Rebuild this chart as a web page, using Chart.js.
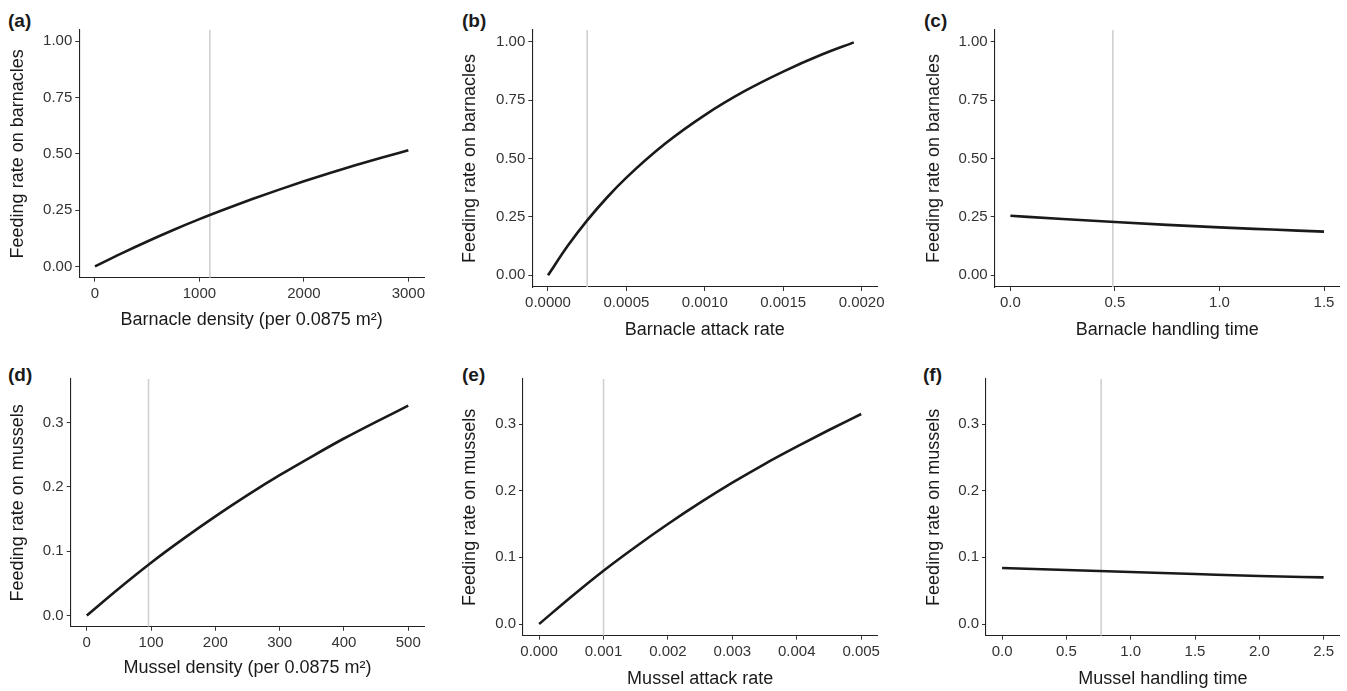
<!DOCTYPE html>
<html><head><meta charset="utf-8">
<script src="https://cdn.jsdelivr.net/npm/chart.js@4/dist/chart.umd.min.js"></script>
<style>
html,body{margin:0;padding:0;background:#fff;width:1347px;height:691px;overflow:hidden;position:relative;}
.lab{position:absolute;font:bold 19px "Liberation Sans",Arial,sans-serif;color:#1a1a1a;line-height:19px;white-space:nowrap;}
</style></head><body>
<div class="lab" style="left:8px;top:11px">(a)</div>
<div class="lab" style="left:462px;top:11px">(b)</div>
<div class="lab" style="left:924px;top:11px">(c)</div>
<div class="lab" style="left:8px;top:365px">(d)</div>
<div class="lab" style="left:462px;top:365px">(e)</div>
<div class="lab" style="left:923px;top:365px">(f)</div>
<script>
// ---- data ----
const barnDensity = [0,250,500,750,1000,1250,1500,1750,2000,2250,2500,2750,3000];
const feedBarnByDensity = [0,0.057,0.111,0.162,0.210,0.255,0.298,0.339,0.378,0.415,0.450,0.484,0.516];
const barnAttack = [0,0.000125,0.00025,0.000375,0.0005,0.00075,0.001,0.00125,0.0015,0.00175,0.00195];
const feedBarnByAttack = [0,0.125,0.235,0.332,0.418,0.565,0.686,0.787,0.872,0.946,0.997];
const barnHandling = [0,0.25,0.5,0.75,1.0,1.25,1.5];
const feedBarnByHandling = [0.255,0.241,0.228,0.216,0.205,0.196,0.187];
const musDensity = [0,50,100,150,200,250,300,350,400,450,500];
const feedMusByDensity = [0,0.042,0.082,0.119,0.154,0.187,0.218,0.247,0.275,0.301,0.326];
const musAttack = [0,0.0005,0.001,0.0015,0.002,0.0025,0.003,0.0035,0.004,0.0045,0.005];
const feedMusByAttack = [0,0.041,0.080,0.116,0.150,0.182,0.212,0.240,0.266,0.291,0.315];
const musHandling = [0,0.5,1.0,1.5,2.0,2.5];
const feedMusByHandling = [0.084,0.081,0.078,0.075,0.072,0.070];

// reference (observed) parameter values, grey vertical lines
const refBarnDensity = 1100;
const refBarnAttack = 0.00025;
const refBarnHandling = 0.49;
const refMusDensity = 96;
const refMusAttack = 0.001;
const refMusHandling = 0.77;

// tick values and labels
const yTicksBarn = [0,0.25,0.5,0.75,1.0];
const yLabelsBarn = ['0.00','0.25','0.50','0.75','1.00'];
const yTicksMus = [0,0.1,0.2,0.3];
const yLabelsMus = ['0.0','0.1','0.2','0.3'];
const xTicksBarnDensity = [0,1000,2000,3000];
const xLabelsBarnDensity = ['0','1000','2000','3000'];
const xTicksBarnAttack = [0,0.0005,0.001,0.0015,0.002];
const xLabelsBarnAttack = ['0.0000','0.0005','0.0010','0.0015','0.0020'];
const xTicksBarnHandling = [0,0.5,1.0,1.5];
const xLabelsBarnHandling = ['0.0','0.5','1.0','1.5'];
const xTicksMusDensity = [0,100,200,300,400,500];
const xLabelsMusDensity = ['0','100','200','300','400','500'];
const xTicksMusAttack = [0,0.001,0.002,0.003,0.004,0.005];
const xLabelsMusAttack = ['0.000','0.001','0.002','0.003','0.004','0.005'];
const xTicksMusHandling = [0,0.5,1.0,1.5,2.0,2.5];
const xLabelsMusHandling = ['0.0','0.5','1.0','1.5','2.0','2.5'];

const yTitleBarn = 'Feeding rate on barnacles';
const yTitleMus = 'Feeding rate on mussels';

const FONT = '"Liberation Sans", Arial, sans-serif';

const panels = [
  {x:0,y:0,w:450,h:345, xs:barnDensity, ys:feedBarnByDensity, ref:refBarnDensity,
   xMin:-150,xMax:3150,yMin:-0.05,yMax:1.05, xTicks:xTicksBarnDensity,xLabels:xLabelsBarnDensity,
   yTicks:yTicksBarn,yLabels:yLabelsBarn, xTitle:'Barnacle density (per 0.0875 m\u00B2)', yTitle:yTitleBarn,
   padTop:30,padRight:26,yAxisW:79.3,xAxisH:67.3,yTitlePad:7.7,xTitlePad:14.2},
  {x:450,y:0,w:447,h:345, xs:barnAttack, ys:feedBarnByAttack, ref:refBarnAttack,
   xMin:-0.0001,xMax:0.0021,yMin:-0.05,yMax:1.05, xTicks:xTicksBarnAttack,xLabels:xLabelsBarnAttack,
   yTicks:yTicksBarn,yLabels:yLabelsBarn, xTitle:'Barnacle attack rate', yTitle:yTitleBarn,
   padTop:30,padRight:19.7,yAxisW:82.3,xAxisH:58,yTitlePad:9.2,xTitlePad:4.2},
  {x:897,y:0,w:450,h:345, xs:barnHandling, ys:feedBarnByHandling, ref:refBarnHandling,
   xMin:-0.075,xMax:1.575,yMin:-0.05,yMax:1.05, xTicks:xTicksBarnHandling,xLabels:xLabelsBarnHandling,
   yTicks:yTicksBarn,yLabels:yLabelsBarn, xTitle:'Barnacle handling time', yTitle:yTitleBarn,
   padTop:30,padRight:7.3,yAxisW:97.7,xAxisH:58,yTitlePad:25.9,xTitlePad:4.2},
  {x:0,y:345,w:450,h:346, xs:musDensity, ys:feedMusByDensity, ref:refMusDensity,
   xMin:-25,xMax:525,yMin:-0.0175,yMax:0.3675, xTicks:xTicksMusDensity,xLabels:xLabelsMusDensity,
   yTicks:yTicksMus,yLabels:yLabelsMus, xTitle:'Mussel density (per 0.0875 m\u00B2)', yTitle:yTitleMus,
   padTop:34,padRight:25.7,yAxisW:70.7,xAxisH:64.3,yTitlePad:7.7,xTitlePad:12.2},
  {x:450,y:345,w:447,h:346, xs:musAttack, ys:feedMusByAttack, ref:refMusAttack,
   xMin:-0.00025,xMax:0.00525,yMin:-0.0175,yMax:0.3675, xTicks:xTicksMusAttack,xLabels:xLabelsMusAttack,
   yTicks:yTicksMus,yLabels:yLabelsMus, xTitle:'Mussel attack rate', yTitle:yTitleMus,
   padTop:34,padRight:19.7,yAxisW:73,xAxisH:55.3,yTitlePad:9.2,xTitlePad:0.7},
  {x:897,y:345,w:450,h:346, xs:musHandling, ys:feedMusByHandling, ref:refMusHandling,
   xMin:-0.125,xMax:2.625,yMin:-0.0175,yMax:0.3675, xTicks:xTicksMusHandling,xLabels:xLabelsMusHandling,
   yTicks:yTicksMus,yLabels:yLabelsMus, xTitle:'Mussel handling time', yTitle:yTitleMus,
   padTop:34,padRight:7.3,yAxisW:89,xAxisH:55.3,yTitlePad:26.2,xTitlePad:1.2}
];

function makePanel(p){
  const c = document.createElement('canvas');
  c.width = p.w; c.height = p.h;
  c.style.cssText = 'position:absolute;left:'+p.x+'px;top:'+p.y+'px;width:'+p.w+'px;height:'+p.h+'px';
  document.body.appendChild(c);
  const curve = p.xs.map((v,i)=>({x:v,y:p.ys[i]}));
  const vline = [{x:p.ref,y:p.yMin},{x:p.ref,y:p.yMax}];
  const axisCommon = {
    grid:{display:true,drawOnChartArea:false,drawTicks:true,tickLength:4,color:'#333',tickWidth:1},
    border:{display:true,color:'#222',width:1.1}
  };
  new Chart(c,{
    type:'line',
    data:{datasets:[
      {data:vline,borderColor:'#d0d0d0',borderWidth:1.6,pointRadius:0,order:2,tension:0},
      {data:curve,borderColor:'#1a1a1a',borderWidth:2.6,pointRadius:0,order:1,cubicInterpolationMode:'monotone'}
    ]},
    options:{
      responsive:false,animation:false,events:[],
      plugins:{legend:{display:false},tooltip:{enabled:false},title:{display:false}},
      layout:{padding:{top:p.padTop,right:p.padRight,left:0,bottom:0}},
      scales:{
        x:Object.assign({
          type:'linear',min:p.xMin,max:p.xMax,
          afterFit:s=>{s.height=p.xAxisH;},
          afterBuildTicks:s=>{s.ticks=p.xTicks.map(v=>({value:v}));},
          ticks:{callback:(v,i)=>p.xLabels[i],font:{family:FONT,size:15},color:'#333',padding:3,maxRotation:0,autoSkip:false},
          title:{display:true,text:p.xTitle,font:{family:FONT,size:18},color:'#1a1a1a',padding:{top:0,bottom:p.xTitlePad}}
        },axisCommon),
        y:Object.assign({
          type:'linear',min:p.yMin,max:p.yMax,
          afterFit:s=>{s.width=p.yAxisW;},
          afterBuildTicks:s=>{s.ticks=p.yTicks.map(v=>({value:v}));},
          ticks:{callback:(v,i)=>p.yLabels[i],font:{family:FONT,size:15},color:'#333',padding:3,autoSkip:false},
          title:{display:true,text:p.yTitle,font:{family:FONT,size:18},color:'#1a1a1a',padding:{top:p.yTitlePad,bottom:0}}
        },axisCommon)
      }
    }
  });
}
panels.forEach(makePanel);
</script>
</body></html>
